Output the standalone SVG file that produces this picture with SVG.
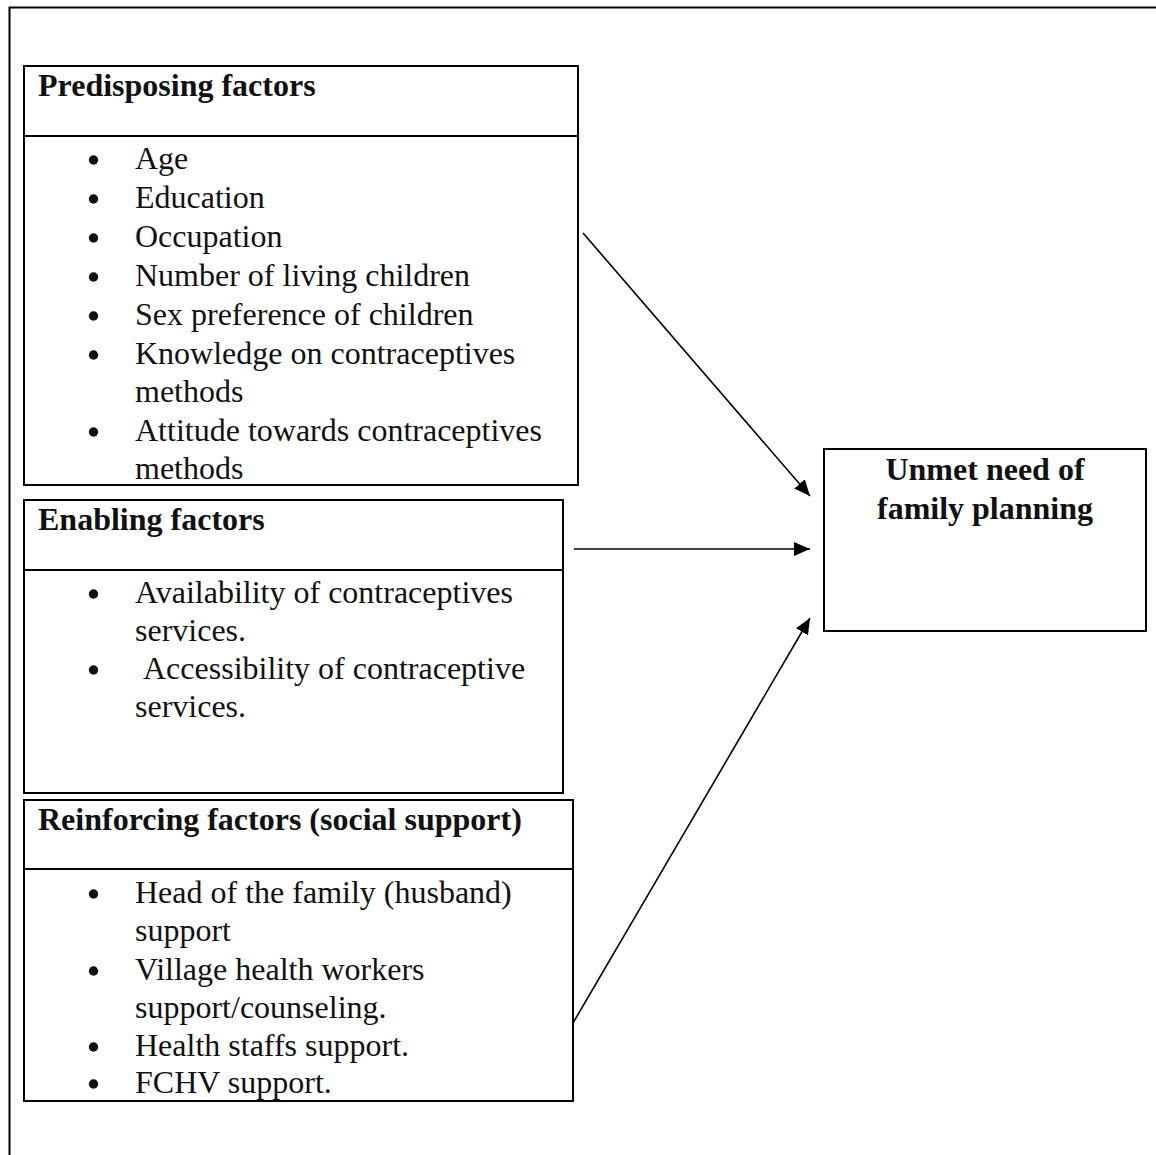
<svg xmlns="http://www.w3.org/2000/svg" width="1156" height="1155" viewBox="0 0 1156 1155">
<style>
.box{fill:none;stroke:#000;stroke-width:2}
.frame{stroke:#000;stroke-width:2;fill:none}
.t{font-family:"Liberation Serif","Times New Roman",serif;font-size:32px;fill:#111}
.b{font-weight:bold}
.c{text-anchor:middle}
.conn{stroke:#000;stroke-width:1.6;fill:none;marker-end:url(#ah)}
.dot{fill:#111}
</style>
<defs>
<marker id="ah" viewBox="0 0 16 14" refX="16" refY="7" markerWidth="16" markerHeight="14" markerUnits="userSpaceOnUse" orient="auto">
<path d="M0,0 L16,7 L0,14 Z" fill="#000"/>
</marker>
</defs>
<rect width="1156" height="1155" fill="#fff"/>
<path class="frame" d="M9.5,1155 V7.5 H1156"/>

<g id="predisposing">
<rect class="box" x="24" y="66" width="554" height="419"/>
<line class="box" x1="24" y1="136" x2="578" y2="136"/>
<text class="t b" x="38" y="96">Predisposing factors</text>
<circle class="dot" cx="93.5" cy="160" r="4.7"/>
<text class="t" x="135" y="169">Age</text>
<circle class="dot" cx="93.5" cy="199" r="4.7"/>
<text class="t" x="135" y="208">Education</text>
<circle class="dot" cx="93.5" cy="238" r="4.7"/>
<text class="t" x="135" y="247">Occupation</text>
<circle class="dot" cx="93.5" cy="277" r="4.7"/>
<text class="t" x="135" y="286">Number of living children</text>
<circle class="dot" cx="93.5" cy="316" r="4.7"/>
<text class="t" x="135" y="325">Sex preference of children</text>
<circle class="dot" cx="93.5" cy="355" r="4.7"/>
<text class="t" x="135" y="364">Knowledge on contraceptives</text>
<text class="t" x="135" y="402">methods</text>
<circle class="dot" cx="93.5" cy="432" r="4.7"/>
<text class="t" x="135" y="441">Attitude towards contraceptives</text>
<text class="t" x="135" y="479">methods</text>
</g>

<g id="enabling">
<rect class="box" x="24" y="500" width="539" height="293"/>
<line class="box" x1="24" y1="570" x2="563" y2="570"/>
<text class="t b" x="38" y="530">Enabling factors</text>
<circle class="dot" cx="93.5" cy="594" r="4.7"/>
<text class="t" x="135" y="603">Availability of contraceptives</text>
<text class="t" x="135" y="641">services.</text>
<circle class="dot" cx="93.5" cy="670" r="4.7"/>
<text class="t" x="143" y="679">Accessibility of contraceptive</text>
<text class="t" x="135" y="717">services.</text>
</g>

<g id="reinforcing">
<rect class="box" x="24" y="800" width="549" height="301"/>
<line class="box" x1="24" y1="869" x2="573" y2="869"/>
<text class="t b" x="38" y="830">Reinforcing factors (social support)</text>
<circle class="dot" cx="93.5" cy="894" r="4.7"/>
<text class="t" x="135" y="903">Head of the family (husband)</text>
<text class="t" x="135" y="941">support</text>
<circle class="dot" cx="93.5" cy="971" r="4.7"/>
<text class="t" x="135" y="980">Village health workers</text>
<text class="t" x="135" y="1018">support/counseling.</text>
<circle class="dot" cx="93.5" cy="1047" r="4.7"/>
<text class="t" x="135" y="1056">Health staffs support.</text>
<circle class="dot" cx="93.5" cy="1084" r="4.7"/>
<text class="t" x="135" y="1093">FCHV support.</text>
</g>

<g id="unmet">
<rect class="box" x="824" y="449" width="322" height="182"/>
<text class="t b c" x="985" y="480">Unmet need of</text>
<text class="t b c" x="985" y="519">family planning</text>
</g>

<g id="connectors">
<line class="conn" x1="583" y1="233" x2="810" y2="496"/>
<line class="conn" x1="574" y1="549" x2="810" y2="549"/>
<line class="conn" x1="573" y1="1023" x2="810" y2="618"/>
</g>
</svg>
